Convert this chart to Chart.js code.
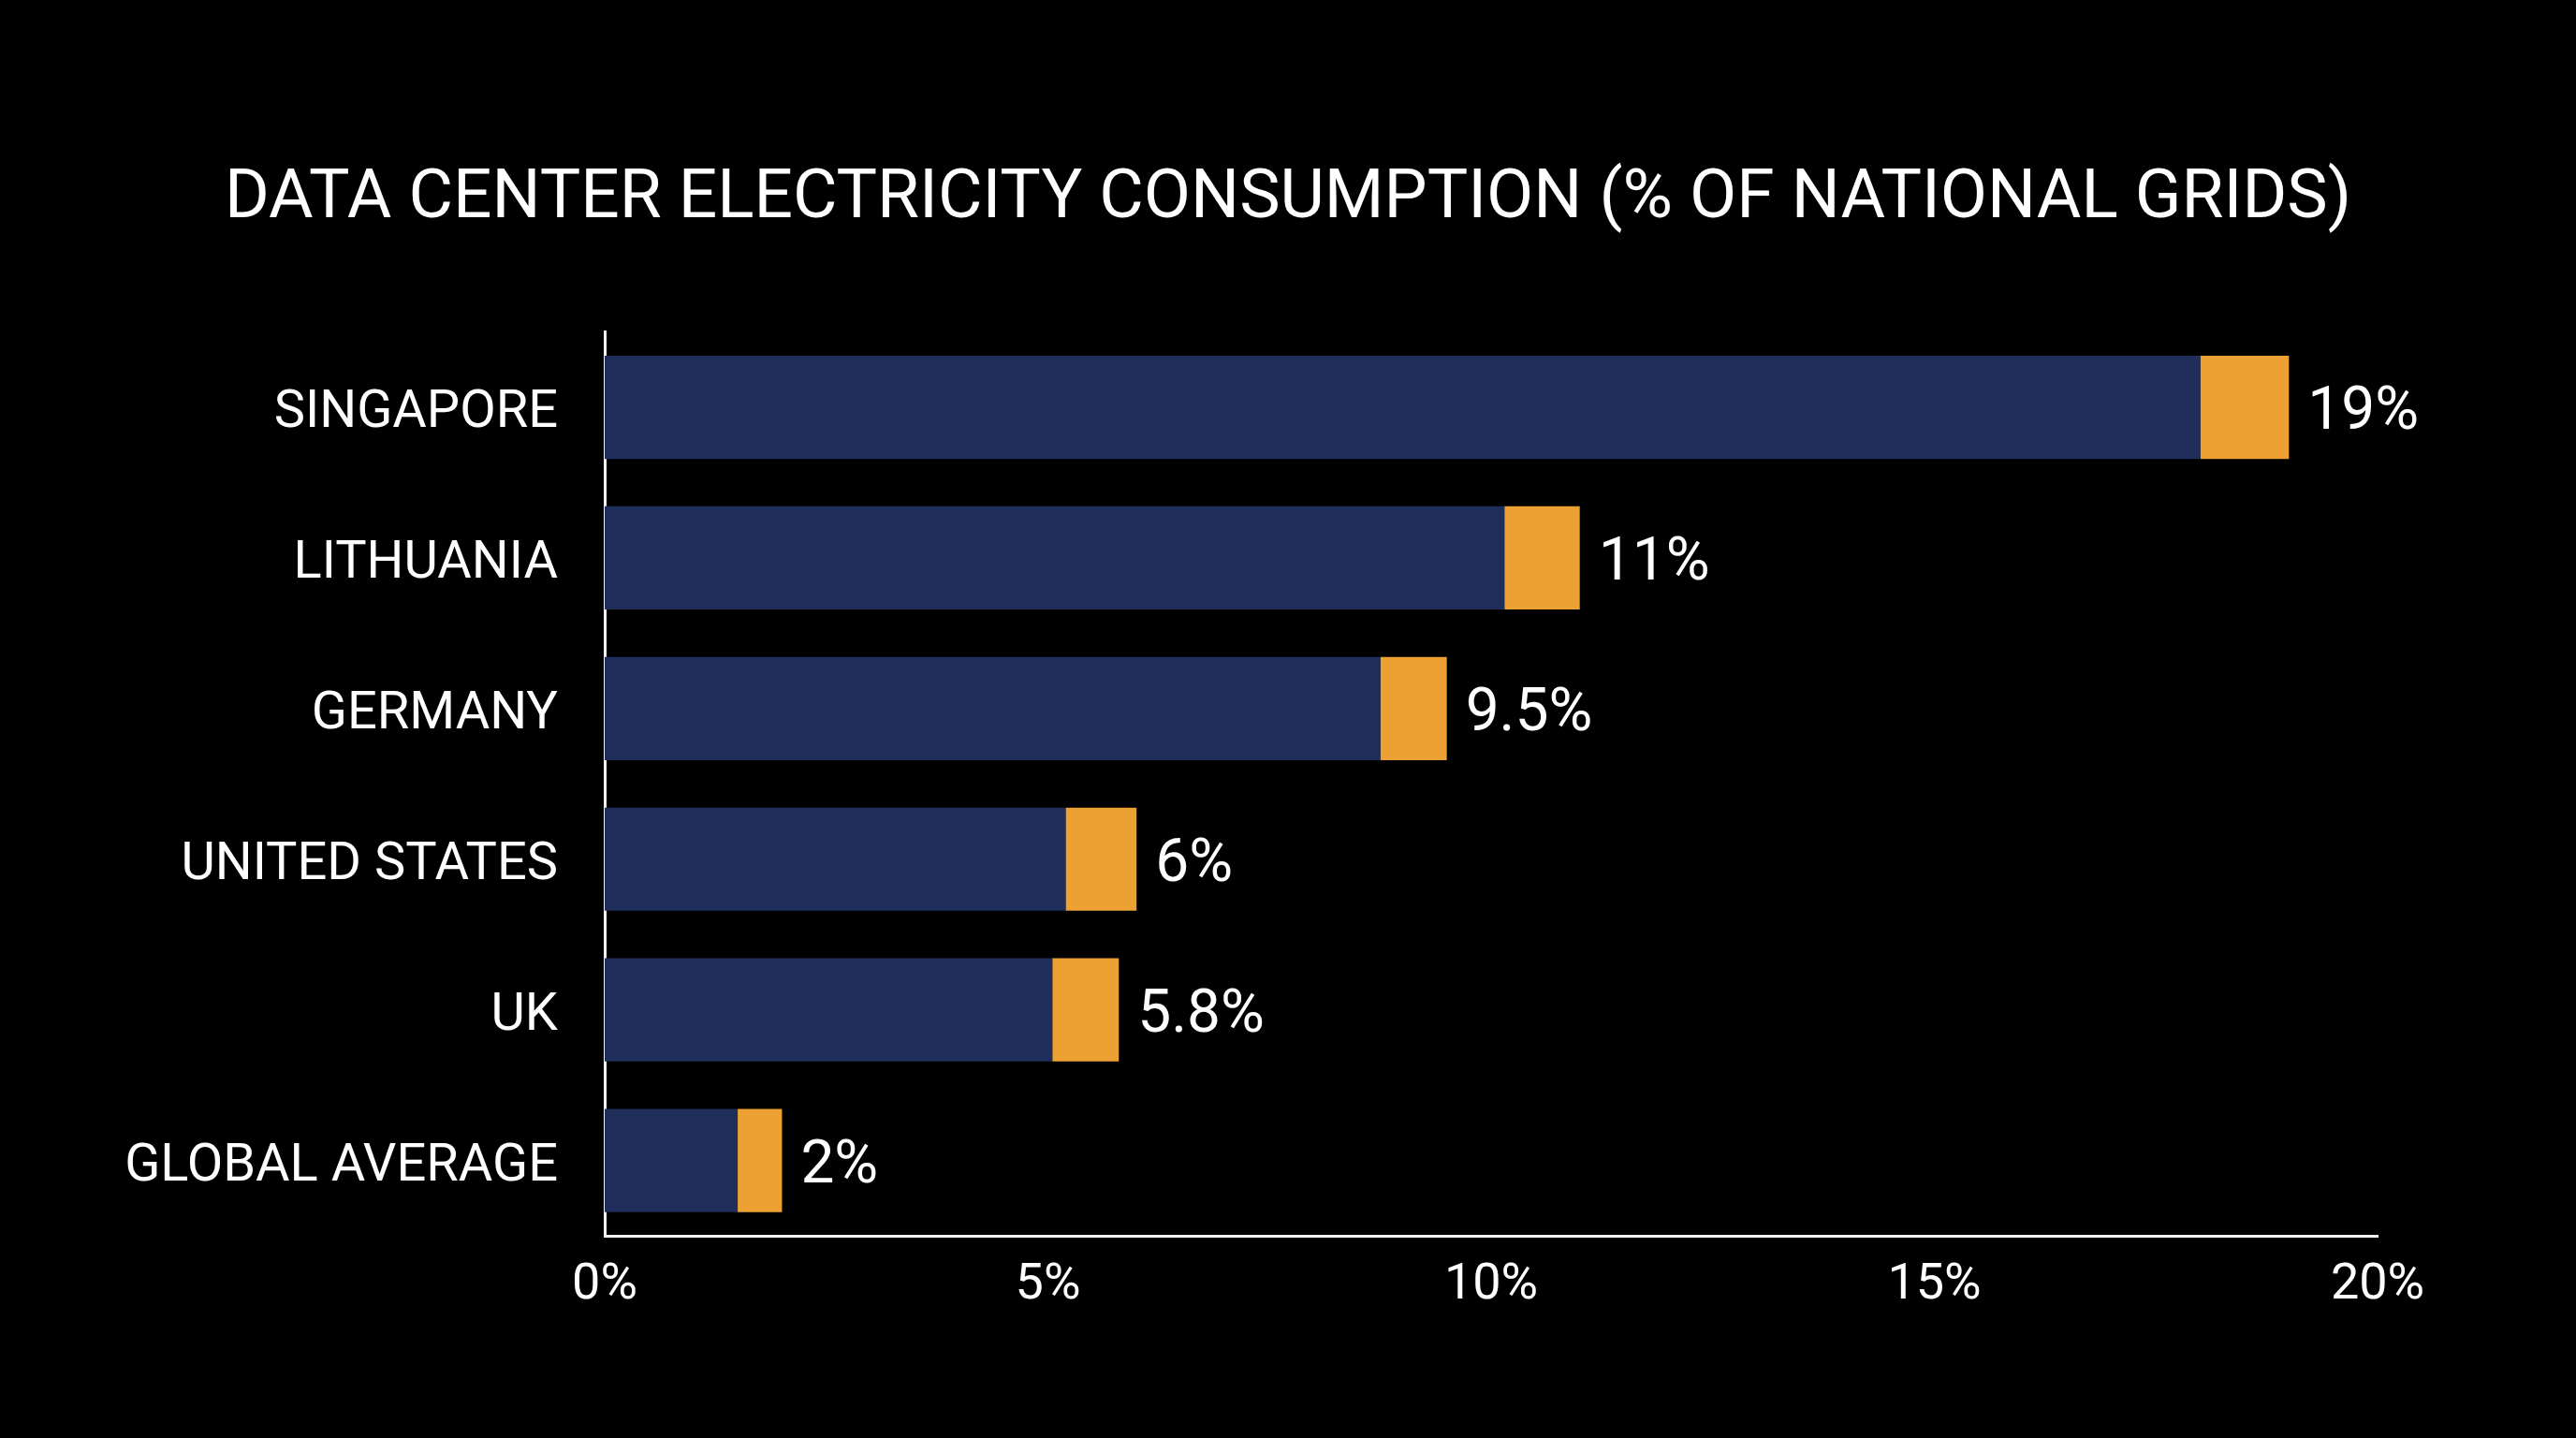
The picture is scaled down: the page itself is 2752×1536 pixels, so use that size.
<!DOCTYPE html>
<html>
<head>
<meta charset="utf-8">
<title>Data Center Electricity Consumption</title>
<script src="https://cdn.jsdelivr.net/npm/chart.js@4/dist/chart.umd.min.js"></script>
<style>
  html, body { margin: 0; padding: 0; background: #000; }
  #wrap { width: 2752px; height: 1536px; position: relative; }
</style>
</head>
<body>
<div id="wrap"><canvas id="grid-chart"></canvas></div>
<script>
// values (% of national grid)
var countries = ['SINGAPORE', 'LITHUANIA', 'GERMANY', 'UNITED STATES', 'UK', 'GLOBAL AVERAGE'];
var baseShare = [18, 10.15, 8.75, 5.2, 5.05, 1.5];
var topShare = [1, 0.85, 0.75, 0.8, 0.75, 0.5];
var totalLabels = ['19%', '11%', '9.5%', '6%', '5.8%', '2%'];
var xMin = 0, xMax = 20, xStep = 5;

var FONT = 'Roboto, "Liberation Sans", sans-serif';

// writes the total at the end of each stacked bar
var totalsPlugin = {
  id: 'totals',
  afterDatasetsDraw: function(chart) {
    var ctx = chart.ctx;
    var meta = chart.getDatasetMeta(chart.data.datasets.length - 1);
    ctx.save();
    ctx.fillStyle = '#ffffff';
    ctx.font = '400 64px ' + FONT;
    ctx.textAlign = 'left';
    ctx.textBaseline = 'middle';
    meta.data.forEach(function(bar, i) {
      ctx.fillText(totalLabels[i], bar.x + 20, bar.y + 7);
    });
    ctx.restore();
  }
};

var ctx = document.getElementById('grid-chart').getContext('2d');
var myChart = new Chart(ctx, {
  type: 'bar',
  data: {
    labels: countries,
    datasets: [{
      data: baseShare,
      backgroundColor: '#1e2d5a',
      categoryPercentage: 0.685,
      barPercentage: 1
    }, {
      data: topShare,
      backgroundColor: '#eea133',
      categoryPercentage: 0.685,
      barPercentage: 1
    }]
  },
  options: {
    indexAxis: 'y',
    responsive: true,
    maintainAspectRatio: false,
    animation: false,
    devicePixelRatio: 1,
    layout: { padding: 0 },
    plugins: {
      legend: { display: false },
      tooltip: { enabled: false },
      title: {
        display: true,
        text: 'DATA CENTER ELECTRICITY CONSUMPTION (% OF NATIONAL GRIDS)',
        color: '#ffffff',
        font: { family: FONT, size: 73, weight: '400', lineHeight: 1.2 },
        padding: { top: 170, bottom: 97 }
      }
    },
    scales: {
      x: {
        stacked: true,
        min: xMin,
        max: xMax,
        grid: { display: false, drawTicks: false },
        border: { display: true, color: '#f2f2f2', width: 3 },
        ticks: {
          stepSize: xStep,
          color: '#ffffff',
          padding: 21,
          font: { family: FONT, size: 54 },
          callback: function(v) { return v + '%'; }
        },
        afterFit: function(scale) { scale.height = 216; }
      },
      y: {
        stacked: true,
        grid: { display: false, drawTicks: false },
        border: { display: true, color: '#f2f2f2', width: 3 },
        ticks: {
          color: '#ffffff',
          padding: 50,
          labelOffset: 7,
          font: { family: FONT, size: 56 }
        },
        afterFit: function(scale) { scale.width = 646; }
      },
      // empty right-hand axis, only keeps the space right of the plot
      rightGap: {
        type: 'linear',
        position: 'right',
        grid: { display: false, drawTicks: false },
        border: { display: false },
        ticks: { display: false },
        afterFit: function(scale) { scale.width = 212; }
      }
    }
  },
  plugins: [totalsPlugin]
});
</script>
</body>
</html>
